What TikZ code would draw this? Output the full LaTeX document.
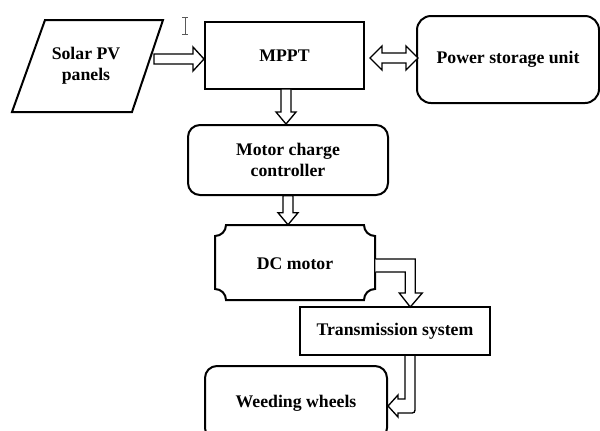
\documentclass[tikz,border=0pt]{standalone}
\usepackage{fontspec}
\setmainfont{Liberation Serif}
\usetikzlibrary{calc}
\begin{document}
\begin{tikzpicture}[x=0.75pt,y=-0.75pt,
  txt/.style={font=\bfseries\fontsize{13.3}{16}\selectfont,align=center,inner sep=0pt},
  box/.style={txt,draw,line width=1.5pt},
  rbox/.style={box,rounded corners=9pt},
  barrow/.style={draw,fill=white,line width=1pt,line join=miter}]
\clip (0,0) rectangle (600,430);
\fill[white] (0,0) rectangle (600,430);
% Solar PV panels (parallelogram)
\draw[line width=1.5pt,line join=miter] (45,20) -- (163,20) -- (132,112) -- (12,112) -- cycle;
\node[txt] (solar) at (86,66) {Solar PV\\panels};
% MPPT
\node[box,minimum width=119.25pt,minimum height=50.25pt] (mppt) at (284.5,55.5) {MPPT};
% Power storage unit
\node[box,rounded corners=10.5pt,minimum width=136.5pt,minimum height=65.25pt] (psu) at (508,59.5) {Power storage unit};
% Motor charge controller
\node[rbox,minimum width=150pt,minimum height=52.5pt] (mcc) at (288,160) {Motor charge\\controller};
% DC motor (concave corners)
\draw[line width=1.5pt]
  (215,236) -- (215,289) .. controls (221.1,289) and (226,293.9) .. (226,300)
  -- (364,300) .. controls (364,293.9) and (368.9,289) .. (375,289)
  -- (375,236) .. controls (368.9,236) and (364,231.1) .. (364,225)
  -- (226,225) .. controls (226,231.1) and (221.1,236) .. (215,236) -- cycle;
\node[txt,minimum width=120pt,minimum height=56.25pt] (dc) at (295,264) {DC motor};
% Transmission system
\node[box,minimum width=142.5pt,minimum height=36pt] (trans) at (395,331) {Transmission system};
% Weeding wheels
\node[rbox,minimum width=136.5pt,minimum height=55.5pt] (weed) at (296,403) {Weeding wheels};
% text cursor
\draw[gray!70!black,line width=0.6pt] (182,17) -- (188,17) (185,17) -- (185,34) (182,34) -- (188,34);
% Arrow Solar -> MPPT
\draw[barrow] ($(mppt.west)+(0,3.5)$) -- ++(-11,-12) -- ++(0,7) -- ++(-39,0) -- ++(0,10) -- ++(39,0) -- ++(0,7) -- cycle;
% Double arrow MPPT <-> PSU
\draw[barrow] ($(mppt.east)+(5,2.5)$) -- ++(12,-12) -- ++(0,7) -- ++(24,0) -- ++(0,-7) -- ++(12,12) -- ++(-12,12) -- ++(0,-7) -- ++(-24,0) -- ++(0,7) -- cycle;
% Arrow MPPT -> MCC
\draw[barrow] ($(mcc.north)+(-2,0)$) -- ++(-10,-12) -- ++(5,0) -- ++(0,-23) -- ++(10,0) -- ++(0,23) -- ++(5,0) -- cycle;
% Arrow MCC -> DC
\draw[barrow] ($(dc.north)+(-7,-1.5)$) -- ++(-10,-12) -- ++(5,0) -- ++(0,-17) -- ++(10,0) -- ++(0,17) -- ++(5,0) -- cycle;
% Elbow arrow DC -> Transmission
\filldraw[fill=white,line width=1pt,line join=miter] ($(dc.east)+(0,-5)$) -- ++(40,0) -- ++(0,34) -- ++(7,0) -- ++(-12,14) -- ++(-11,-14) -- ++(6,0) -- ++(0,-21) -- ++(-30,0);
% Elbow arrow Transmission -> Weeding
\filldraw[fill=white,line width=1pt,line join=miter] ($(trans.south)+(10,0)$) -- ++(0,43) -- ++(-7,0) -- ++(0,-4) -- ++(-10,11) -- ++(10,11) -- ++(0,-4) -- ++(11,0) .. controls ++(6,0) and ++(0,6) .. ++(6,-6) -- ++(0,-51);
\end{tikzpicture}
\end{document}
